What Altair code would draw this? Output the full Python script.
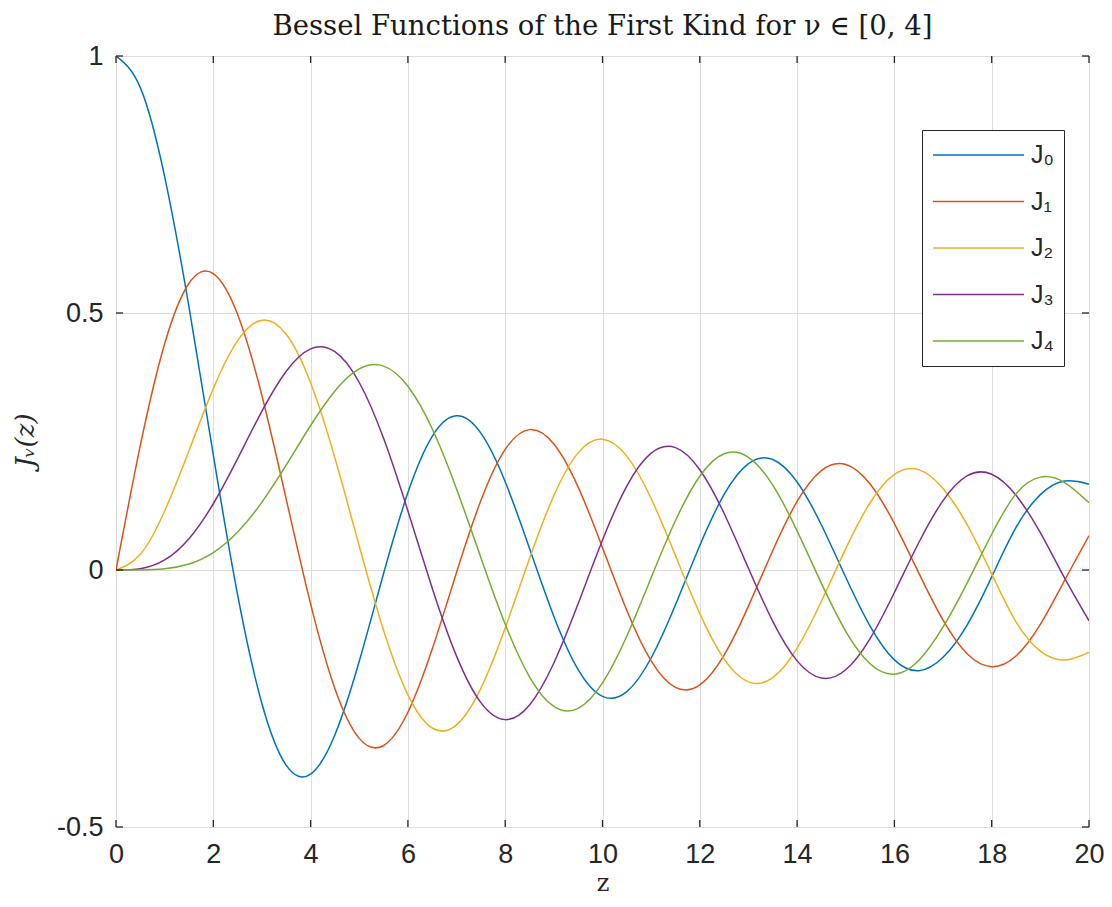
import altair as alt
import pandas as pd

z = [0.0, 0.5, 1.0, 1.5, 2.0, 2.5, 3.0, 3.5, 4.0, 4.5, 5.0, 5.5, 6.0, 6.5, 7.0, 7.5,
     8.0, 8.5, 9.0, 9.5, 10.0, 10.5, 11.0, 11.5, 12.0, 12.5, 13.0, 13.5, 14.0, 14.5,
     15.0, 15.5, 16.0, 16.5, 17.0, 17.5, 18.0, 18.5, 19.0, 19.5, 20.0]

j0 = [1.0, 0.9385, 0.7652, 0.5118, 0.2239, -0.0484, -0.2601, -0.3801, -0.3971, -0.3205,
      -0.1776, -0.0068, 0.1506, 0.2601, 0.3001, 0.2663, 0.1717, 0.0419, -0.0903, -0.1939,
      -0.2459, -0.2366, -0.1712, -0.0677, 0.0477, 0.1469, 0.2069, 0.2150, 0.1711, 0.0875,
      -0.0142, -0.1092, -0.1749, -0.1960, -0.1699, -0.1061, -0.0134, 0.0828, 0.1466, 0.1730, 0.1670]
j1 = [0.0, 0.2423, 0.4401, 0.5579, 0.5767, 0.4971, 0.3391, 0.1374, -0.0660, -0.2311,
      -0.3276, -0.3414, -0.2767, -0.1538, -0.0047, 0.1352, 0.2346, 0.2731, 0.2453, 0.1613,
      0.0435, -0.0789, -0.1768, -0.2284, -0.2234, -0.1655, -0.0703, 0.0380, 0.1334, 0.1934,
      0.2051, 0.1672, 0.0904, -0.0057, -0.0977, -0.1636, -0.1880, -0.1672, -0.1057, -0.0199, 0.0668]
j2 = [0.0, 0.0306, 0.1149, 0.2321, 0.3528, 0.4461, 0.4861, 0.4586, 0.3641, 0.2178,
      0.0466, -0.1173, -0.2429, -0.3074, -0.3014, -0.2303, -0.1130, 0.0223, 0.1448, 0.2279,
      0.2546, 0.2216, 0.1390, 0.0280, -0.0849, -0.1734, -0.2177, -0.2094, -0.1520, -0.0609,
      0.0416, 0.1308, 0.1862, 0.1953, 0.1584, 0.0874, -0.0075, -0.1009, -0.1578, -0.1750, -0.1603]
j3 = [0.0, 0.0026, 0.0196, 0.0610, 0.1289, 0.2167, 0.3091, 0.3868, 0.4302, 0.4247,
      0.3648, 0.2561, 0.1148, -0.0354, -0.1676, -0.2581, -0.2911, -0.2626, -0.1809, -0.0653,
      0.0584, 0.1633, 0.2273, 0.2381, 0.1951, 0.1100, 0.0033, -0.1000, -0.1768, -0.2102,
      -0.1940, -0.1334, -0.0438, 0.0530, 0.1350, 0.1836, 0.1863, 0.1454, 0.0725, -0.0160, -0.0989]
j4 = [0.0, 0.0002, 0.0025, 0.0118, 0.0340, 0.0738, 0.1320, 0.2044, 0.2811, 0.3484,
      0.3912, 0.3967, 0.3576, 0.2747, 0.1578, 0.0239, -0.1054, -0.2077, -0.2655, -0.2691,
      -0.2196, -0.1283, -0.0150, 0.0962, 0.1825, 0.2262, 0.2192, 0.1650, 0.0762, -0.0261,
      -0.1192, -0.1824, -0.2026, -0.1760, -0.1108, -0.0244, 0.0696, 0.1481, 0.1807, 0.1701, 0.1307]

names = ["J₀", "J₁", "J₂", "J₃", "J₄"]
colors = ["#0072BD", "#D95319", "#EDB120", "#7E2F8E", "#77AC30"]
x_ticks = [0, 2, 4, 6, 8, 10, 12, 14, 16, 18, 20]
y_ticks = [-0.5, 0, 0.5, 1]

series = [j0, j1, j2, j3, j4]
rows = []
for name, vals in zip(names, series):
    for zi, v in zip(z, vals):
        rows.append({"z": zi, "J": v, "name": name})
df = pd.DataFrame(rows)

W, H = 973, 771
TICK = 7
INK = "#262626"

xscale = alt.Scale(domain=[0, 20], nice=False, zero=False)
yscale = alt.Scale(domain=[-0.5, 1], nice=False, zero=False)

lines = alt.Chart(df).mark_line(strokeWidth=1.5, interpolate="natural", clip=True).encode(
    x=alt.X("z:Q", scale=xscale,
            axis=alt.Axis(values=x_ticks, title="z", grid=True, ticks=False, domain=False,
                          labelFont="Liberation Sans", labelFontSize=27, labelColor=INK,
                          labelPadding=14, labelFlush=False,
                          titleFont="DejaVu Serif", titleFontSize=24, titleFontWeight="normal",
                          titleColor=INK, titleX=W / 2, titleY=56, titleBaseline="middle")),
    y=alt.Y("J:Q", scale=yscale,
            axis=alt.Axis(values=y_ticks, title="Jᵥ(z)", grid=True, ticks=False, domain=False,
                          labelExpr="datum.value + ''",
                          labelFont="Liberation Sans", labelFontSize=27, labelColor=INK,
                          labelPadding=13, labelFlush=False,
                          titleFont="DejaVu Serif", titleFontStyle="italic", titleFontSize=26,
                          titleFontWeight="normal", titleColor=INK,
                          titleX=-91, titleY=384, titleAlign="center", titleBaseline="middle")),
    color=alt.Color("name:N", scale=alt.Scale(domain=names, range=colors),
                    legend=alt.Legend(title=None, orient="none", legendX=806, legendY=74,
                                      symbolType="stroke", symbolSize=8281, symbolStrokeWidth=1.5,
                                      clipHeight=30, rowPadding=16.5, padding=10,
                                      labelOffset=6, labelFont="Liberation Sans", labelFontSize=25,
                                      labelColor=INK, strokeColor=INK, fillColor="white")),
)

xt = pd.DataFrame({"t": x_ticks})
yt = pd.DataFrame({"t": y_ticks})

tick_style = dict(color=INK, strokeWidth=1.3)
x_bottom = alt.Chart(xt).mark_rule(**tick_style).encode(
    x=alt.X("t:Q", scale=xscale), y=alt.value(H), y2=alt.value(H - TICK))
x_top = alt.Chart(xt).mark_rule(**tick_style).encode(
    x=alt.X("t:Q", scale=xscale), y=alt.value(0), y2=alt.value(TICK))
y_left = alt.Chart(yt).mark_rule(**tick_style).encode(
    y=alt.Y("t:Q", scale=yscale), x=alt.value(0), x2=alt.value(TICK))
y_right = alt.Chart(yt).mark_rule(**tick_style).encode(
    y=alt.Y("t:Q", scale=yscale), x=alt.value(W), x2=alt.value(W - TICK))

chart = alt.layer(lines, x_bottom, x_top, y_left, y_right).properties(
    width=W, height=H,
    title=alt.TitleParams("Bessel Functions of the First Kind for ν ∈ [0, 4]",
                          font="DejaVu Serif", fontSize=27.5, fontWeight="normal",
                          color="#1a1a1a", anchor="middle", frame="group", offset=2),
    autosize=alt.AutoSizeParams(type="none"),
    padding={"left": 108, "top": 48, "right": 15, "bottom": 72},
).configure_view(stroke=INK, strokeWidth=1.5).configure_axis(
    gridColor="#dcdcdc", gridWidth=1, gridOpacity=1
).configure(background="white")

chart.save("out.html", embed_options={"renderer": "svg", "actions": False})
